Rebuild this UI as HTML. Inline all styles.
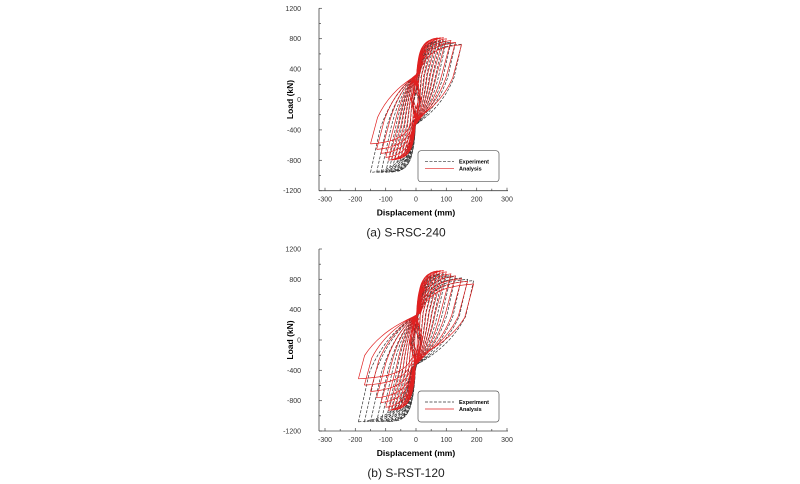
<!DOCTYPE html>
<html><head><meta charset="utf-8"><style>
html,body{margin:0;padding:0;background:#fff;width:800px;height:484px;overflow:hidden}
svg{position:absolute;left:0;top:0}
text{font-family:"Liberation Sans",Arial,sans-serif}
</style></head><body>
<svg id="s" width="800" height="484" xmlns="http://www.w3.org/2000/svg"></svg>
<script>
const S=document.getElementById('s');let h='';
function chart(top,bot,amps,posF,negE,negA,cap){
  const X=x=>(416+x*0.3033).toFixed(1), Y=y=>(top+(1200-y)*(bot-top)/2400).toFixed(1);
  const P=(x,y)=>X(x)+','+Y(y);
  h+=`<line x1="319" y1="${top}" x2="319" y2="${bot}" stroke="#444" stroke-width="0.8"/>`;
  h+=`<line x1="319" y1="${bot}" x2="508" y2="${bot}" stroke="#444" stroke-width="0.8"/>`;
  for(let v=-1200;v<=1200;v+=200){const y=Y(v);h+=`<line x1="319" y1="${y}" x2="${v%400==0?322:321}" y2="${y}" stroke="#444" stroke-width="0.7"/>`;
    if(v%400==0)h+=`<text x="301" y="${+y+2.5}" font-size="7" text-anchor="end" fill="#333">${v}</text>`;}
  for(let v=-300;v<=300;v+=50){const x=X(v);h+=`<line x1="${x}" y1="${bot}" x2="${x}" y2="${bot-(v%100==0?3:2)}" stroke="#444" stroke-width="0.7"/>`;
    if(v%100==0)h+=`<text x="${x}" y="${bot+11}" font-size="7" text-anchor="middle" fill="#333">${v}</text>`;}
  h+=`<text x="416" y="${bot+25}" font-size="8.5" font-weight="bold" text-anchor="middle">Displacement (mm)</text>`;
  h+=`<text transform="translate(293,${(top+bot)/2}) rotate(-90)" font-size="8.5" font-weight="bold" text-anchor="middle">Load (kN)</text>`;
  h+=`<text x="406" y="${bot+46}" font-size="12" text-anchor="middle" fill="#222">${cap}</text>`;
  function loops(col,dash,negMax,red){
    let d='';
    amps.forEach((a,i)=>{
      const big=Math.max(0,(a-90)/100);
      const Fp=posF*Math.tanh(a/25)*(red?1.02-big*0.2:0.97-big*0.1);
      const Fn=negMax*Math.tanh(a/25)*(red?(1-0.45*big):1);
      const K=red?15:18;
      const an=a;
      const Fm=Math.min(300,Fp*0.4), Fmn=Math.min(300,Fn*0.4);
      // ascending
      const dF=Math.min(Fn*0.6+ (a<40?Fm:0), Fn+Fm);
      const s=-an+dF/K, sf=-Fn+dF;
      d+=`M${P(-an,-Fn)}L${P(s,sf)}`;
      d+=`C${P(s+(a*0.1-s)*0.3,sf+(Fm-sf)*0.7)} ${P(-a*0.1,Fm*0.95)} ${P(a*0.08,Fm*1.2)}`;
      d+=`C${P(a*0.2,Fp*0.9)} ${P(a*0.6,Fp*0.97)} ${P(a,Fp)}`;
      // descending
      const dP=Math.min(Fp*0.6+(a<40?Fmn:0), Fp+Fmn);
      const e=a-dP/K, ef=Fp-dP;
      d+=`L${P(e,ef)}`;
      d+=`C${P(e+(-a*0.1-e)*0.3,ef+(-Fmn-ef)*0.7)} ${P(a*0.1,-Fmn*0.95)} ${P(-an*0.08,-Fmn*1.2)}`;
      d+=`C${P(-an*0.2,-Fn*0.9)} ${P(-an*0.6,-Fn*0.97)} ${P(-an,-Fn)}`;
    });
    h+=`<path d="${d}" fill="none" stroke="${col}" stroke-width="0.7" ${dash?'stroke-dasharray="3,1.5"':''}/>`;
  }
  loops('#333',true,negE,false);
  loops('#e02020',false,negA,true);
  const ly=bot-40;
  h+=`<rect x="418" y="${ly}" width="81" height="31" rx="3" fill="#fff" stroke="#555" stroke-width="0.7"/>`;
  h+=`<line x1="425" y1="${ly+11}" x2="454" y2="${ly+11}" stroke="#333" stroke-width="0.7" stroke-dasharray="3,1.5"/>`;
  h+=`<line x1="425" y1="${ly+18}" x2="454" y2="${ly+18}" stroke="#e02020" stroke-width="0.7"/>`;
  h+=`<text x="459" y="${ly+13}" font-size="5.5" font-weight="bold">Experiment</text>`;
  h+=`<text x="459" y="${ly+20}" font-size="5.5" font-weight="bold">Analysis</text>`;
}
chart(8.3,190.7,[8,15,22,30,40,50,60,70,80,90,100,115,130,150],800,960,800,'(a)  S-RSC-240');
chart(249,431,[8,15,22,30,40,50,60,70,80,90,100,115,130,150,170,190],900,1080,930,'(b)  S-RST-120');
S.innerHTML=h;
</script>
</body></html>
